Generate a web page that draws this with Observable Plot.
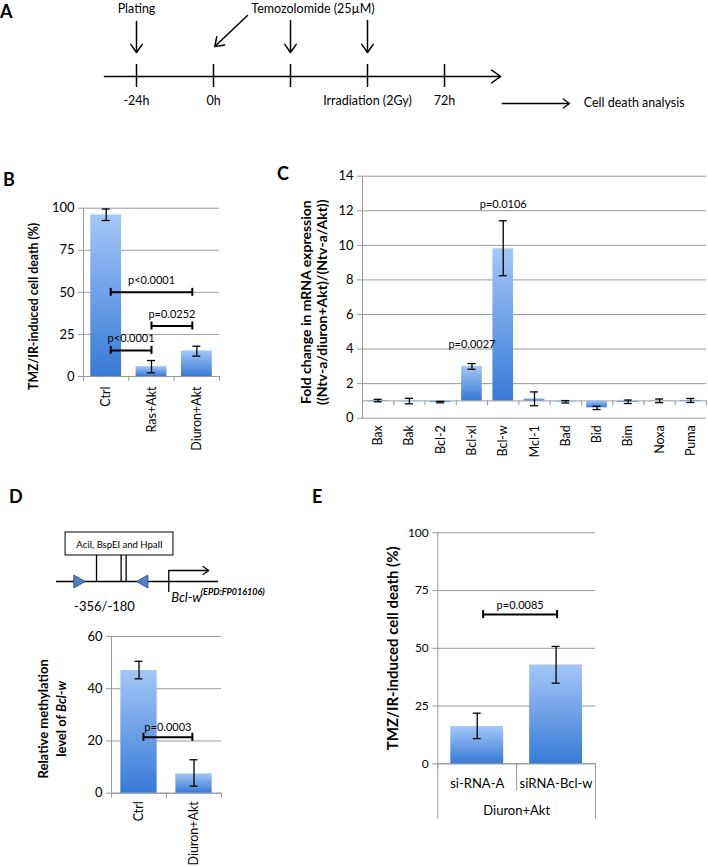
<!DOCTYPE html>
<html><head><meta charset="utf-8">
<script src="https://cdn.jsdelivr.net/npm/d3@7"></script>
<script src="https://cdn.jsdelivr.net/npm/@observablehq/plot@0.6"></script>
<style>
body{margin:0;background:#fff;}
#root{position:relative;width:708px;height:867px;overflow:hidden;font-family:Lato,sans-serif;background:#fff;}
.panel{position:absolute;}
.letter{position:absolute;font-weight:bold;font-size:18px;line-height:18px;}
svg{overflow:visible;}
</style></head><body><div id="root"></div>
<script>
// ---------- DATA ----------
// Panel A: timeline (hours)
const timeTicks = [-24, 0, 24, 48, 72];
const timeLabels = ["-24h", "0h", "", "Irradiation (2Gy)", "72h"];
const platingTimes = [-24];
const tmzArrowTimes = [24, 48];
const tmzDiagonalTimes = [0];

// Panel B
const bCategories = ["Ctrl", "Ras+Akt", "Diuron+Akt"];
const bMeans = [96, 5.9, 15.2];
const bLower = [92.7, 2.2, 12.1];
const bUpper = [99.5, 9.5, 18];
const bTicks = [0, 25, 50, 75, 100];
const bComparisons = [
  {from: 0.1, to: 1.9, level: 50, label: "p<0.0001"},
  {from: 1.0, to: 1.9, level: 30, label: "p=0.0252"},
  {from: 0.1, to: 1.0, level: 15.5, label: "p<0.0001"}
];

// Panel C
const cGenes = ["Bax","Bak","Bcl-2","Bcl-xl","Bcl-w","Mcl-1","Bad","Bid","Bim","Noxa","Puma"];
const cFold  = [1.02, 0.97, 0.92, 3.0, 9.8, 1.12, 0.95, 0.6, 0.93, 1.01, 1.03];
const cLower = [0.95, 0.83, 0.89, 2.83, 8.24, 0.72, 0.88, 0.5, 0.85, 0.9, 0.91];
const cUpper = [1.09, 1.15, 0.97, 3.16, 11.42, 1.52, 1.02, 0.69, 1.05, 1.11, 1.14];
const cBaseline = 1;
const cTicks = [0, 2, 4, 6, 8, 10, 12, 14];
const cPValues = [
  {gene: "Bcl-xl", label: "p=0.0027", at: 4.25},
  {gene: "Bcl-w", label: "p=0.0106", at: 12.35}
];

// Panel D
const dCategories = ["Ctrl", "Diuron+Akt"];
const dMeans = [47, 7.4];
const dLower = [43.8, 2.7];
const dUpper = [50.5, 12.8];
const dTicks = [0, 20, 40, 60];
const dComparisons = [{from: 0.08, to: 0.97, level: 21.4, label: "p=0.0003"}];
// promoter schematic (schematic units along the promoter)
const dPrimers = [{pos: 13, dir: 90}, {pos: 54.1, dir: -90}];
const dSites = [24.7, 39.9, 43.0];
const dTSS = [69.3];

// Panel E
const eCategories = ["si-RNA-A", "siRNA-Bcl-w"];
const eGroup = "Diuron+Akt";
const eMeans = [16.1, 42.8];
const eLower = [10.9, 34.9];
const eUpper = [21.9, 50.8];
const eTicks = [0, 25, 50, 75, 100];
const eComparisons = [{from: 0.075, to: 1.013, level: 64.6, label: "p=0.0085"}];

// ---------- HELPERS ----------
const FONT = "Lato, 'Open Sans', sans-serif";
const GRID = "#9a9a9a";
const root = document.getElementById("root");

function place(node, left, top) {
  const d = document.createElement("div");
  d.className = "panel";
  d.style.left = left + "px";
  d.style.top = top + "px";
  d.appendChild(node);
  root.appendChild(d);
  return node;
}
function letter(t, left, top) {
  const d = document.createElement("div");
  d.className = "letter";
  d.textContent = t;
  d.style.left = left + "px";
  d.style.top = top + "px";
  root.appendChild(d);
}
function gradient(id) {
  return () => {
    const defs = d3.create("svg:defs");
    const g = defs.append("linearGradient").attr("id", id)
      .attr("x1", 0).attr("y1", 0).attr("x2", 0).attr("y2", 1);
    g.append("stop").attr("offset", "0%").attr("stop-color", "#a4c7f7");
    g.append("stop").attr("offset", "100%").attr("stop-color", "#387ad6");
    return defs.node();
  };
}
function rowsOf(cats, v, lo, hi) {
  return cats.map((c, i) => ({i, c, v: v[i], lo: lo[i], hi: hi[i]}));
}
function bracketMarks(br, dy) {
  return [
    Plot.ruleY(br, {x1: "from", x2: "to", y: "level", stroke: "black", strokeWidth: 2}),
    Plot.ruleX(br, {x: "from", y1: "level", y2: "level", insetTop: -4, insetBottom: -4, stroke: "black", strokeWidth: 2}),
    Plot.ruleX(br, {x: "to", y1: "level", y2: "level", insetTop: -4, insetBottom: -4, stroke: "black", strokeWidth: 2}),
    Plot.text(br, {x: d => (d.from + d.to) / 2, y: "level", text: "label", dy, fontSize: 11, fill: "black"})
  ];
}
function barPanel(o) {
  const n = o.rows.length;
  const base = o.baseline ?? 0;
  const bounds = d3.range(n + 1).map(i => i - 0.5);
  const yMid = (o.yDomain[0] + o.yDomain[1]) / 2;
  const marks = [
    gradient(o.gradId),
    Plot.gridY(o.ticks, {stroke: GRID, strokeOpacity: 1}),
    Plot.axisY(o.ticks, {tickSize: 5, tickPadding: 4, fontSize: o.tickFont, stroke: GRID, label: null}),
    Plot.ruleX([-0.5], {stroke: GRID}),
    Plot.ruleY([base], {stroke: GRID}),
    Plot.ruleX(bounds, {x: d => d, y1: base, y2: base, insetBottom: -5, stroke: GRID}),
    Plot.rectY(o.rows, {x1: d => d.i - o.half, x2: d => d.i + o.half, y1: base, y2: "v", fill: `url(#${o.gradId})`}),
    Plot.ruleX(o.rows, {x: "i", y1: "lo", y2: "hi", stroke: "black", strokeWidth: 1.3}),
    Plot.ruleY(o.rows, {x1: "i", x2: "i", y: "lo", insetLeft: -4, insetRight: -4, stroke: "black", strokeWidth: 1.3}),
    Plot.ruleY(o.rows, {x1: "i", x2: "i", y: "hi", insetLeft: -4, insetRight: -4, stroke: "black", strokeWidth: 1.3}),
    Plot.text([o.title], {text: d => d, x: -0.5, y: yMid, rotate: -90, dx: o.titleDx, dy: o.titleDy,
      textAnchor: "middle", lineAnchor: "middle",
      fontWeight: "bold", fontSize: o.titleFont, lineHeight: o.titleLine ?? 1.2, fill: "black"}),
    ...(o.extra || [])
  ];
  if (o.rotateLabels) {
    marks.push(Plot.axisX(d3.range(n), {tickFormat: i => o.rows[i].c, tickSize: 0, tickRotate: -90,
      tickPadding: o.labelPad, fontSize: o.labelFont, label: null}));
  }
  return Plot.plot({
    width: o.width, height: o.height,
    marginLeft: o.ml, marginRight: o.mr, marginTop: o.mt, marginBottom: o.mb,
    x: {domain: [-0.5, n - 0.5], axis: null},
    y: {domain: o.yDomain, axis: null},
    style: {fontFamily: FONT, fontSize: "13px", color: "black", background: "none", overflow: "visible"},
    marks
  });
}

// ---------- PANEL A ----------
const aFont = 12.5;
const planA = Plot.plot({
  width: 708, height: 120, margin: 0,
  x: {domain: [-24, 72], range: [136, 444], axis: null},
  y: {domain: [0, 120], range: [0, 120], axis: null},
  style: {fontFamily: FONT, fontSize: aFont + "px", color: "black", background: "none", overflow: "visible"},
  marks: [
    Plot.arrow({length: 1}, {x1: -34, x2: 89.5, y1: 76, y2: 76, stroke: "black", strokeWidth: 1.5, headLength: 11, headAngle: 70}),
    Plot.ruleX(timeTicks, {x: d => d, y1: 64, y2: 87, stroke: "black", strokeWidth: 1.5}),
    Plot.text(timeTicks, {x: d => d, y: 100, text: (d, i) => timeLabels[i], fill: "black"}),
    Plot.arrow(platingTimes, {x1: d => d, x2: d => d, y1: 21, y2: 52, stroke: "black", strokeWidth: 1.5, headLength: 10, headAngle: 70}),
    Plot.text(platingTimes, {x: d => d, y: 8, text: () => "Plating", fill: "black"}),
    Plot.arrow(tmzArrowTimes, {x1: d => d, x2: d => d, y1: 20, y2: 52, stroke: "black", strokeWidth: 1.5, headLength: 10, headAngle: 70}),
    Plot.arrow(tmzDiagonalTimes, {x1: d => d + 10.6, x2: d => d + 0.4, y1: 15, y2: 46, stroke: "black", strokeWidth: 1.5, headLength: 10, headAngle: 70}),
    Plot.text(["Temozolomide (25\u00b5M)"], {x: 31, y: 8, text: d => d, fill: "black"}),
    Plot.arrow({length: 1}, {x1: 90, x2: 111, y1: 103, y2: 103, stroke: "black", strokeWidth: 1.3, headLength: 9, headAngle: 70}),
    Plot.text(["Cell death analysis"], {x: 115.4, y: 102.5, text: d => d, textAnchor: "start", fill: "black"})
  ]
});
place(planA, 0, 0);
letter("A", 0, 2);

// ---------- PANEL B ----------
place(barPanel({
  rows: rowsOf(bCategories, bMeans, bLower, bUpper), gradId: "gB",
  width: 230, height: 250, ml: 83, mr: 11, mt: 17.7, mb: 64,
  yDomain: [0, 100], ticks: bTicks, tickFont: 13, half: 0.34,
  title: "TMZ/IR-induced cell death (%)", titleDx: -50, titleDy: 14, titleFont: 12.3,
  rotateLabels: true, labelPad: 10, labelFont: 12.5,
  extra: bracketMarks(bComparisons, -12)
}), 0, 190);
letter("B", 3, 170);

// ---------- PANEL C ----------
const cRows = rowsOf(cGenes, cFold, cLower, cUpper);
place(barPanel({
  rows: cRows, gradId: "gC", baseline: cBaseline,
  width: 463, height: 305, ml: 117, mr: 2, mt: 15.7, mb: 47.3,
  yDomain: [0, 14], ticks: cTicks, tickFont: 13, half: 0.33,
  title: "Fold change in mRNA expression\n((Ntv-a/diuron+Akt)/(Ntv-a/Akt))", titleDx: -48.3, titleDy: 5, titleFont: 14, titleLine: 1.14,
  rotateLabels: true, labelPad: 7, labelFont: 12.5,
  extra: [Plot.text(cPValues, {x: d => cGenes.indexOf(d.gene), y: "at", text: "label", fontSize: 11, fill: "black"})]
}), 245, 160);
letter("C", 277, 164);

// ---------- PANEL D ----------
const dPlot = place(barPanel({
  rows: rowsOf(dCategories, dMeans, dLower, dUpper), gradId: "gD",
  width: 240, height: 247, ml: 111, mr: 19, mt: 16, mb: 74.3,
  yDomain: [0, 60], ticks: dTicks, tickFont: 13, half: 0.33,
  title: "Relative methylation\nlevel of Bcl-w", titleDx: -60.1, titleDy: 4, titleFont: 13, titleLine: 1.38,
  rotateLabels: true, labelPad: 8, labelFont: 12.5,
  extra: bracketMarks(dComparisons, -10)
}), 0, 620);
// italicise gene name in the title
d3.select(dPlot).selectAll("tspan").each(function() {
  const t = d3.select(this);
  if (t.text() === "level of Bcl-w") {
    t.text("level of ");
    t.append("tspan").attr("font-style", "italic").text("Bcl-w");
  }
});
letter("D", 9, 487);

// promoter schematic
const schematic = Plot.plot({
  width: 290, height: 100, margin: 0,
  x: {domain: [0, 100], range: [56, 218], axis: null},
  y: {domain: [0, 100], range: [0, 100], axis: null},
  style: {fontFamily: FONT, fontSize: "12px", color: "black", background: "none", overflow: "visible"},
  marks: [
    Plot.ruleY([61], {x1: 0, x2: 100, y: d => d, stroke: "black", strokeWidth: 1.3}),
    Plot.ruleX(dSites, {x: d => d, y1: 35, y2: 61, stroke: "black", strokeWidth: 1.3}),
    Plot.rect([0], {x1: 5.6, x2: 72.2, y1: 12, y2: 35, fill: "white", stroke: "black", strokeWidth: 1}),
    Plot.text(["AciI, BspEI and HpaII"], {x: (5.6 + 72.2) / 2, y: 24.5, text: d => d, fontSize: 9.5, fill: "black"}),
    Plot.dot(dPrimers, {x: "pos", y: 61, symbol: "triangle", rotate: "dir", r: 4.8, fill: "#4f81c6", stroke: "#2f5a92", strokeWidth: 1}),
    Plot.ruleX(dTSS, {x: d => d, y1: 50, y2: 72, stroke: "black", strokeWidth: 1.3}),
    Plot.arrow(dTSS, {x1: d => d, x2: d => d + 24.7, y1: 50, y2: 50, stroke: "black", strokeWidth: 1.3, headLength: 8, headAngle: 70}),
    Plot.text(["Bcl-w"], {x: 70.8, y: 77, text: d => d, textAnchor: "start", fontStyle: "italic", fontSize: 13, fill: "black"}),
    Plot.text(["(EPD:FP016106)"], {x: 89, y: 72, text: d => d, textAnchor: "start", fontStyle: "italic", fontWeight: "bold", fontSize: 9, fill: "black"}),
    Plot.text(["-356/-180"], {x: 29.6, y: 86, text: d => d, fontSize: 13, fill: "black"})
  ]
});
place(schematic, 0, 520);

// ---------- PANEL E ----------
const eRows = rowsOf(eCategories, eMeans, eLower, eUpper);
place(barPanel({
  rows: eRows, gradId: "gE",
  width: 280, height: 330, ml: 87.3, mr: 35, mt: 17.3, mb: 81.7,
  yDomain: [0, 100], ticks: eTicks, tickFont: 12, half: 0.335,
  title: "TMZ/IR-induced cell death (%)", titleDx: -45.6, titleDy: 0, titleFont: 15,
  rotateLabels: false,
  extra: [
    ...bracketMarks(eComparisons, -9),
    Plot.ruleX([-0.5, 1.5], {x: d => d, y1: 0, y2: 0, insetBottom: -55, stroke: GRID}),
    Plot.ruleX([0.5], {x: d => d, y1: 0, y2: 0, insetBottom: -27, stroke: GRID}),
    Plot.text(eRows, {x: "i", y: 0, text: "c", dy: 20, lineAnchor: "middle", fontSize: 13, fill: "black"}),
    Plot.text([eGroup], {x: 0.5, y: 0, text: d => d, dy: 47.4, lineAnchor: "middle", fontSize: 13, fill: "black"})
  ]
}), 350, 515);
letter("E", 312, 487);
</script></body></html>
